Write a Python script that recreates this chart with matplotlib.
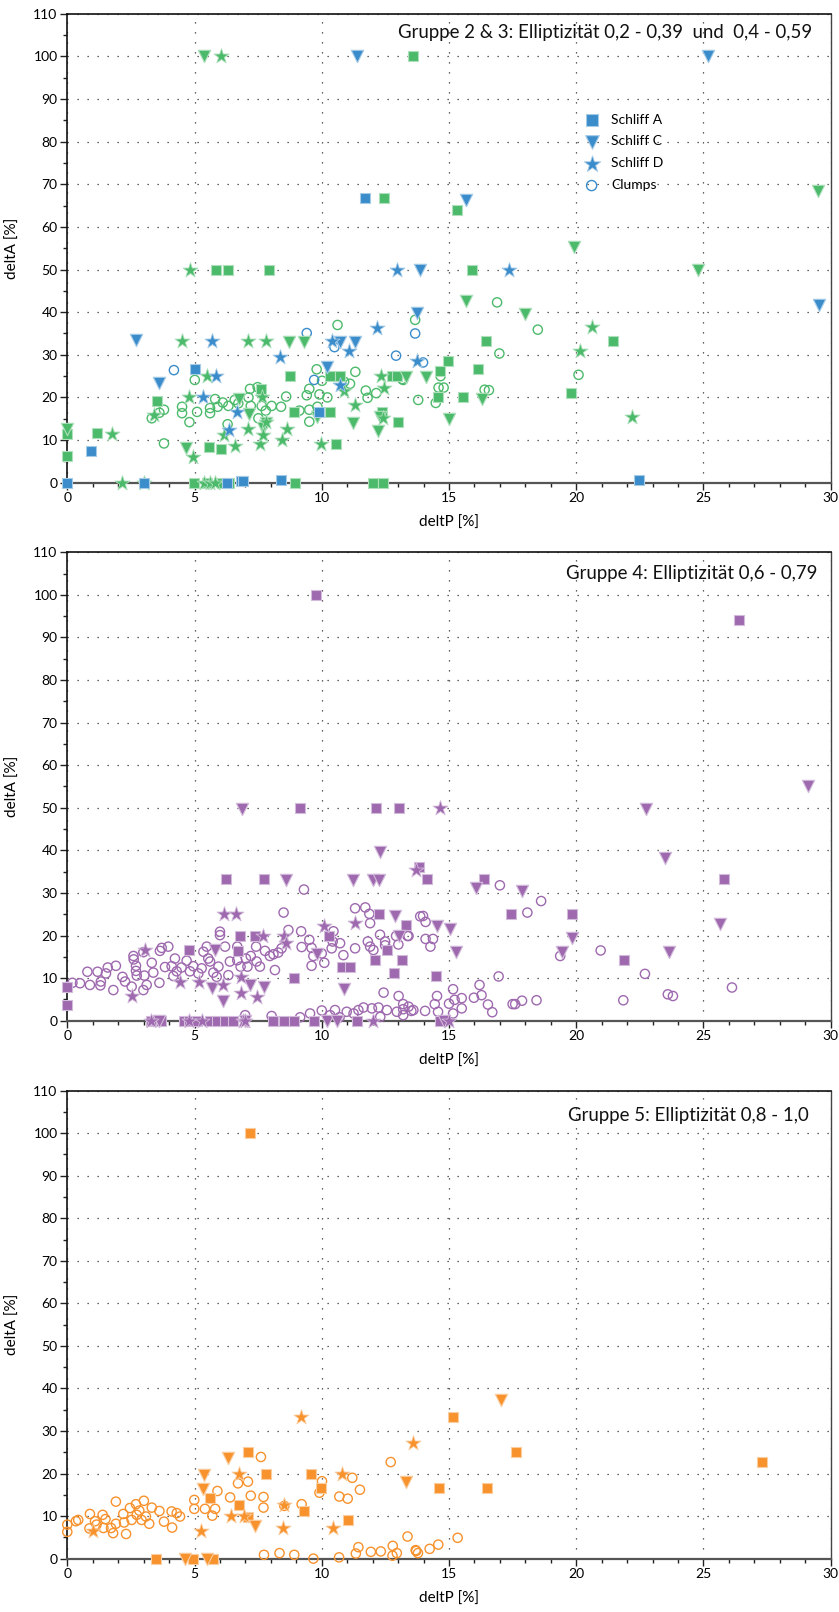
import matplotlib.pyplot as plt
from matplotlib.ticker import MultipleLocator

plt.rcParams['font.family'] = ['Lato', 'DejaVu Sans']

# ---- Gruppe 2 & 3 (blau / gruen) ----
b_sq_x = [11.7, 5.01, 0.92, 0.0, 3.01, 6.26, 6.84, 6.9, 8.4, 22.45, 9.9]
b_sq_y = [66.7, 26.7, 7.5, 0, 0, 0, 0.3, 0.3, 0.6, 0.6, 16.5]
b_tri_x = [11.4, 25.16, 15.66, 13.87, 29.55, 13.74, 2.70, 10.7, 11.32, 3.62, 10.2]
b_tri_y = [100, 100, 66.4, 50, 41.7, 39.9, 33.5, 33.1, 33.1, 23.3, 27.1]
b_star_x = [17.35, 12.95, 5.69, 10.4, 11.09, 12.18, 8.37, 13.74, 5.86, 5.32, 6.67, 6.37, 10.72]
b_star_y = [50, 50, 33.3, 33.3, 30.9, 36.4, 29.4, 28.6, 25.0, 20.0, 16.6, 12.4, 22.8]
b_circ_x = [9.41, 10.5, 12.92, 13.67, 13.98, 4.19, 9.7]
b_circ_y = [35.1, 31.8, 29.8, 35.0, 28.2, 26.4, 24.1]

g_sq_x = [13.6, 12.45, 15.31, 15.89, 5.83, 6.32, 7.92, 16.47, 21.44, 14.96, 14.63, 16.13,
          19.78, 14.57, 15.54, 13.01, 8.75, 10.33, 10.72, 12.77, 12.95, 12.38, 10.55, 10.33,
          8.89, 3.54, 1.15, 0.0, 0.0, 5.57, 6.04, 7.6, 4.99, 5.48, 6.07, 6.34, 8.95, 12.03, 12.42]
g_sq_y = [100, 66.7, 64.0, 50, 50, 50, 50, 33.3, 33.3, 28.6, 26.3, 26.7,
          21.0, 20.0, 20.0, 14.3, 25.0, 25.0, 25.0, 25.0, 25.0, 16.6, 9.1, 16.6,
          16.6, 19.2, 11.6, 11.3, 6.3, 8.3, 7.8, 22.0, 0, 0, 0, 0, 0, 0, 0]
g_tri_x = [5.38, 29.5, 19.9, 24.8, 15.66, 17.99, 14.08, 13.32, 16.29, 15.01, 8.70, 9.31,
           11.22, 12.2, 12.27, 9.8, 0.0, 4.67, 6.76, 7.16, 7.71, 7.8]
g_tri_y = [100, 68.5, 55.4, 50, 42.6, 39.6, 24.7, 24.7, 19.6, 14.9, 33.1, 33.1,
           14.1, 12.2, 15.3, 15.4, 12.7, 8.1, 19.6, 16.1, 12.8, 13.9]
g_star_x = [6.05, 4.82, 20.62, 20.14, 22.19, 4.52, 7.12, 7.80, 5.50, 10.89, 11.3, 12.33,
            12.45, 12.42, 9.96, 8.64, 8.43, 1.74, 2.16, 3.03, 5.39, 5.61, 5.8, 4.78,
            6.16, 6.59, 7.12, 7.58, 7.71, 7.8, 7.64, 4.95, 3.42]
g_star_y = [100, 50, 36.5, 30.8, 15.5, 33.3, 33.3, 33.3, 25.0, 21.4, 18.3, 25.0,
            22.2, 15.1, 9.1, 12.6, 10.0, 11.4, 0, 0, 0, 0, 0, 20.0,
            11.2, 8.7, 12.5, 9.1, 11.2, 14.3, 20.2, 6.1, 15.8]
g_circ_x = [16.89, 13.67, 18.49, 16.98, 14.67, 20.09, 13.16, 14.59, 14.79, 16.4, 16.57, 13.79,
            14.48, 10.62, 5.01, 9.80, 10.01, 11.32, 10.88, 11.11, 11.73, 11.8, 12.14, 13.2,
            9.41, 9.51, 9.91, 10.22, 9.83, 9.51, 9.51, 9.83, 9.12, 8.6, 8.4, 3.80, 3.62, 3.32,
            3.8, 4.51, 4.51, 4.8, 5.1, 5.61, 5.61, 5.81, 5.91, 6.11, 6.33, 6.3, 6.58, 6.72,
            7.18, 7.48, 7.12, 7.21, 7.64, 7.8, 8.03, 7.51]
g_circ_y = [42.3, 38.2, 35.9, 30.3, 25.0, 25.3, 24.3, 22.3, 22.3, 21.8, 21.7, 19.4,
            18.7, 37.0, 24.1, 26.6, 23.9, 26.0, 23.7, 23.2, 21.6, 19.9, 21.0, 24.1,
            20.5, 22.0, 20.7, 20.0, 17.8, 17.1, 14.3, 16.4, 16.9, 20.2, 17.8, 17.1, 16.4, 15.1,
            9.2, 17.8, 16.3, 14.2, 16.6, 17.5, 16.3, 19.6, 17.8, 18.8, 18.0, 13.7, 19.4, 18.6,
            22.0, 22.4, 20.0, 18.0, 18.0, 16.9, 18.0, 15.1]

# ---- Gruppe 4 (lila) ----
p_sq_x = [9.78, 26.39, 9.15, 12.14, 13.04, 25.82, 13.82, 14.13, 16.36, 17.42, 19.85, 13.32,
          13.15, 21.87, 14.5, 14.66, 6.23, 7.73, 6.79, 7.39, 4.8, 6.72, 8.89, 10.3,
          12.23, 12.56, 12.1, 12.82, 10.79, 11.1, 0.0, 0.0,
          3.3, 3.5, 3.7, 4.6, 4.8, 5.1, 5.6, 5.9, 6.2, 6.5, 8.1, 8.5, 8.9, 9.7, 11.4]
p_sq_y = [100, 94.1, 50, 50, 50, 33.3, 36.2, 33.3, 33.3, 25.0, 25.0, 22.5,
          14.2, 14.2, 10.5, 0, 33.3, 33.3, 20, 20, 16.6, 16.4, 10.0, 20.0,
          25.0, 16.6, 14.2, 11.1, 12.5, 12.5, 3.7, 8.0,
          0, 0, 0, 0, 0, 0, 0, 0, 0, 0, 0, 0, 0, 0, 0]
p_tri_x = [6.87, 22.74, 29.1, 23.5, 12.3, 8.6, 11.22, 12.0, 12.24, 16.07, 17.87, 25.66,
           12.86, 14.53, 15.05, 15.29, 19.46, 19.85, 23.66, 13.05, 10.88, 5.81, 9.8, 5.68,
           6.1, 7.18, 7.73, 3.6, 7.0, 10.2, 10.6, 14.8]
p_tri_y = [49.8, 49.8, 55.2, 38.2, 39.7, 33.1, 33.1, 33.1, 33.1, 31.2, 30.5, 22.7,
           24.5, 22.3, 21.5, 16.1, 16.1, 19.4, 16.1, 19.8, 7.4, 16.5, 15.6, 7.8,
           4.7, 8.3, 8.0, 0, 0, 0, 0, 0]
p_star_x = [14.63, 13.69, 6.16, 6.63, 7.71, 3.05, 8.5, 8.6, 10.07, 11.31, 2.53, 4.43,
            5.16, 6.1, 6.81, 7.44, 6.84, 3.3, 4.8, 5.3, 6.9, 7.0, 12.0, 15.0]
p_star_y = [50, 35.5, 25, 25, 20, 16.6, 19.8, 18.2, 22.3, 23.0, 5.7, 9.0,
            9.2, 8.4, 6.6, 5.6, 10.3, 0, 0, 0, 0, 0, 0, 0]
p_circ_x = [17.0, 18.62, 18.08, 13.98, 14.08, 14.08, 14.37, 14.27, 13.37, 19.37, 20.96, 22.7,
            16.95, 26.12, 23.6, 23.8, 21.85, 14.53, 15.16, 15.22, 15.5, 15.5, 16.2, 16.28,
            15.98, 16.53, 16.7, 17.5, 17.6, 17.87, 18.44, 15.0, 15.16, 14.44, 14.57, 14.06,
            13.52, 13.2, 10.0, 9.54, 9.15, 8.03, 6.99, 10.33, 10.52, 10.98, 11.44, 11.25,
            11.64, 11.97, 12.23, 12.43, 12.56, 13.02, 13.2, 13.2, 12.95, 13.41, 13.6, 12.3,
            10.7, 9.3, 8.5,
            0.0, 0.2, 0.5, 0.79, 0.89, 1.19, 1.32, 1.3, 1.52, 1.59, 1.81, 1.91, 2.17, 2.27,
            2.53, 2.6, 2.61, 2.7, 2.7, 2.73, 2.99, 2.99, 3.03, 3.12, 3.32, 3.38, 3.64, 3.71,
            3.62, 3.84, 3.97, 4.1, 4.17, 4.23, 4.3, 4.49, 4.69, 4.82, 4.95, 5.15, 5.28, 5.35,
            5.48, 5.54, 5.61, 5.74, 5.94, 5.87, 6.0, 6.0, 6.2, 6.39, 6.33, 6.68, 6.68, 6.81,
            7.02, 7.08, 7.21, 7.42, 7.44, 7.57, 7.77, 7.96, 8.16, 8.1, 8.29, 8.42, 8.69, 9.19,
            9.21, 9.51, 9.6, 9.67, 9.6, 10.0, 10.1, 10.43, 10.46, 10.39, 10.72, 10.85, 11.31,
            11.31, 11.71, 11.87, 11.9, 11.81, 11.9, 12.03, 12.29, 12.49, 12.49, 12.92, 13.01,
            13.41, 13.87]
p_circ_y = [31.8, 28.1, 25.4, 24.6, 23.2, 19.2, 19.2, 17.4, 19.9, 15.2, 16.5, 11.0,
            10.4, 7.8, 6.2, 5.8, 4.8, 5.8, 7.4, 4.9, 5.3, 2.9, 8.4, 6.0,
            5.4, 3.8, 2.0, 3.9, 3.9, 4.7, 4.8, 4.0, 1.7, 3.9, 2.1, 2.3,
            2.3, 1.3, 2.4, 1.7, 0.8, 1.1, 1.3, 1.3, 2.5, 2.1, 2.5, 1.7,
            3.1, 2.9, 3.1, 6.6, 2.5, 5.8, 3.9, 2.7, 2.1, 3.3, 2.5, 0.9,
            0.8, 30.8, 25.4,
            8.0, 8.9, 8.8, 11.5, 8.4, 11.5, 9.2, 8.3, 11.1, 12.5, 7.2, 12.9, 10.3, 9.2,
            8.0, 15.2, 14.4, 12.9, 11.7, 10.6, 7.2, 16.1, 10.6, 8.4, 13.6, 11.3, 16.4, 17.1,
            8.9, 12.6, 17.4, 12.8, 10.5, 14.6, 11.6, 12.5, 14.1, 11.6, 12.8, 11.1, 12.3, 16.2,
            17.4, 14.6, 13.9, 11.3, 12.7, 10.3, 20.9, 20.1, 17.4, 13.9, 10.7, 17.4, 14.2, 12.7,
            14.6, 12.7, 15.2, 17.4, 13.9, 12.7, 16.4, 15.2, 11.9, 15.6, 16.0, 17.0, 21.3, 21.0,
            17.3, 19.0, 17.1, 15.2, 12.9, 15.8, 13.6, 18.6, 21.0, 17.0, 18.2, 15.4, 26.4,
            17.0, 26.6, 25.1, 22.9, 18.6, 17.4, 16.6, 20.2, 18.6, 17.7, 19.9, 17.9,
            19.9, 24.5]

# ---- Gruppe 5 (orange) ----
o_sq_x = [7.18, 15.14, 17.65, 27.32, 14.6, 16.48, 7.12, 7.8, 9.58, 5.61, 6.75, 7.12,
          9.29, 9.97, 11.03, 3.47, 4.95, 5.71]
o_sq_y = [100, 33.3, 25, 22.7, 16.6, 16.6, 25, 20, 20, 14.2, 12.5, 9.9,
          11.1, 16.7, 9.1, 0, 0, 0]
o_tri_x = [17.06, 13.3, 6.33, 5.39, 5.34, 7.38, 4.63, 5.48]
o_tri_y = [37.3, 17.9, 23.6, 19.7, 16.4, 7.6, 0, 0]
o_star_x = [9.19, 13.58, 6.75, 10.79, 6.44, 6.96, 5.27, 8.47, 10.46, 1.0, 8.53]
o_star_y = [33.3, 27.3, 20, 20, 10.1, 10.1, 6.6, 7.2, 7.1, 6.4, 12.6]
o_circ_x = [0.0, 0.0, 0.34, 0.43, 0.89, 0.87, 1.09, 1.15, 1.39, 1.42, 1.5, 1.72, 1.8,
            1.91, 1.91, 2.2, 2.23, 2.31, 2.46, 2.53, 2.7, 2.73, 2.83, 2.92, 3.01, 3.09,
            3.22, 3.32, 3.62, 3.8, 4.1, 4.12, 4.3, 4.43, 4.99, 4.99, 5.41, 5.7, 5.81, 5.9,
            6.4, 6.71, 7.1, 7.21, 7.61, 7.71, 7.71, 8.53, 9.21, 9.91, 10.01, 10.69, 11.02,
            11.2, 11.5, 12.71,
            7.73, 8.34, 8.92, 9.67, 10.68, 11.34, 11.44, 11.93, 12.32, 12.79, 12.78, 12.95,
            13.37, 13.71, 15.34, 14.58, 14.24, 13.69, 13.78]
o_circ_y = [8.0, 6.3, 8.8, 9.1, 10.5, 7.1, 8.8, 8.0, 10.3, 7.2, 9.3, 7.2, 6.0,
            13.4, 8.2, 10.5, 8.5, 5.8, 11.9, 9.1, 12.8, 10.3, 11.3, 9.1, 13.6, 9.9,
            8.2, 12.0, 11.2, 8.7, 11.1, 7.3, 10.7, 9.9, 13.8, 11.7, 11.7, 10.1, 11.7, 15.9,
            14.4, 17.7, 18.1, 14.8, 23.9, 14.5, 12.0, 12.4, 12.8, 15.5, 18.2, 14.6, 14.1,
            19.0, 16.2, 22.7,
            0.9, 1.3, 0.9, 0.0, 0.3, 1.2, 2.7, 1.6, 1.7, 3.0, 0.7, 1.3,
            5.2, 1.8, 4.9, 3.3, 2.3, 2.0, 1.3]

BLUE = '#3a8cca'
GREEN = '#4cba6b'
PURPLE = '#9e69ae'
ORANGE = '#f7922d'

titles = ['Gruppe 2 & 3: Elliptizität 0,2 - 0,39  und  0,4 - 0,59',
          'Gruppe 4: Elliptizität 0,6 - 0,79',
          'Gruppe 5: Elliptizität 0,8 - 1,0']
legend_labels = ['Schliff A', 'Schliff C', 'Schliff D', 'Clumps']


def tint(c, f=0.55):
    r, g, b = [int(c[i:i + 2], 16) / 255 for i in (1, 3, 5)]
    return (r + (1 - r) * f, g + (1 - g) * f, b + (1 - b) * f)


def draw_group(ax, color, sq, tri, star, circ, with_label=False):
    lab = legend_labels if with_label else [None] * 4
    ax.scatter(*circ, marker='o', s=44, facecolors='none', edgecolors=color,
               linewidths=1.0, zorder=3, clip_on=False, label=lab[3])
    ax.scatter(*sq, marker='s', s=56, color=color, edgecolors=tint(color),
               linewidths=0.8, zorder=4, clip_on=False, label=lab[0])
    ax.scatter(*tri, marker='v', s=80, color=color, edgecolors=tint(color),
               linewidths=0.8, zorder=4, clip_on=False, label=lab[1])
    ax.scatter(*star, marker='*', s=130, color=color, edgecolors=tint(color),
               linewidths=0.6, zorder=4, clip_on=False, label=lab[2])


def style_axes(ax, title, tx, ty):
    ax.set_xlim(0, 30)
    ax.set_ylim(0, 110)
    ax.xaxis.set_major_locator(MultipleLocator(5))
    ax.xaxis.set_minor_locator(MultipleLocator(1))
    ax.yaxis.set_major_locator(MultipleLocator(10))
    ax.yaxis.set_minor_locator(MultipleLocator(5))
    ax.tick_params(which='both', direction='out', top=False, right=False,
                   labelsize=10, pad=2, color='#222222')
    ax.tick_params(which='major', length=5, width=1)
    ax.tick_params(which='minor', length=3, width=1)
    ax.grid(True, which='major', linestyle=(0, (1, 7)), linewidth=0.9, color='#333333')
    ax.set_axisbelow(True)
    for s in ('left', 'top'):
        ax.spines[s].set_linewidth(1.2)
        ax.spines[s].set_color('#111111')
    ax.spines['bottom'].set_linewidth(1.6)
    ax.spines['bottom'].set_color('#555555')
    ax.spines['right'].set_linewidth(1.0)
    ax.spines['right'].set_color('#444444')
    ax.set_xlabel('deltP [%]', fontsize=11, labelpad=8)
    ax.set_ylabel('deltA [%]', fontsize=11, labelpad=10)
    ax.text(tx, ty, title, transform=ax.transAxes, ha='right', va='center',
            fontsize=13.4, color='#111111')


fig = plt.figure(figsize=(8.39, 16.12), dpi=100)
ax1 = fig.add_axes([0.0802, 0.7006, 0.9099, 0.2908])
ax2 = fig.add_axes([0.0802, 0.3668, 0.9099, 0.2906])
ax3 = fig.add_axes([0.0802, 0.0331, 0.9099, 0.2903])

draw_group(ax1, GREEN, (g_sq_x, g_sq_y), (g_tri_x, g_tri_y), (g_star_x, g_star_y),
           (g_circ_x, g_circ_y))
draw_group(ax1, BLUE, (b_sq_x, b_sq_y), (b_tri_x, b_tri_y), (b_star_x, b_star_y),
           (b_circ_x, b_circ_y), with_label=True)
draw_group(ax2, PURPLE, (p_sq_x, p_sq_y), (p_tri_x, p_tri_y), (p_star_x, p_star_y),
           (p_circ_x, p_circ_y))
draw_group(ax3, ORANGE, (o_sq_x, o_sq_y), (o_tri_x, o_tri_y), (o_star_x, o_star_y),
           (o_circ_x, o_circ_y))

style_axes(ax1, titles[0], 0.9755, 0.9595)
style_axes(ax2, titles[1], 0.982, 0.955)
style_axes(ax3, titles[2], 0.9716, 0.948)

h, l = ax1.get_legend_handles_labels()
order = [l.index(x) for x in legend_labels]
ax1.legend([h[i] for i in order], [l[i] for i in order], loc='upper left',
           bbox_to_anchor=(0.665, 0.802), frameon=False, fontsize=10,
           handletextpad=0.7, labelspacing=0.71, borderpad=0, handlelength=1.4,
           markerscale=1.1)

fig.savefig('out.png', dpi=100)
